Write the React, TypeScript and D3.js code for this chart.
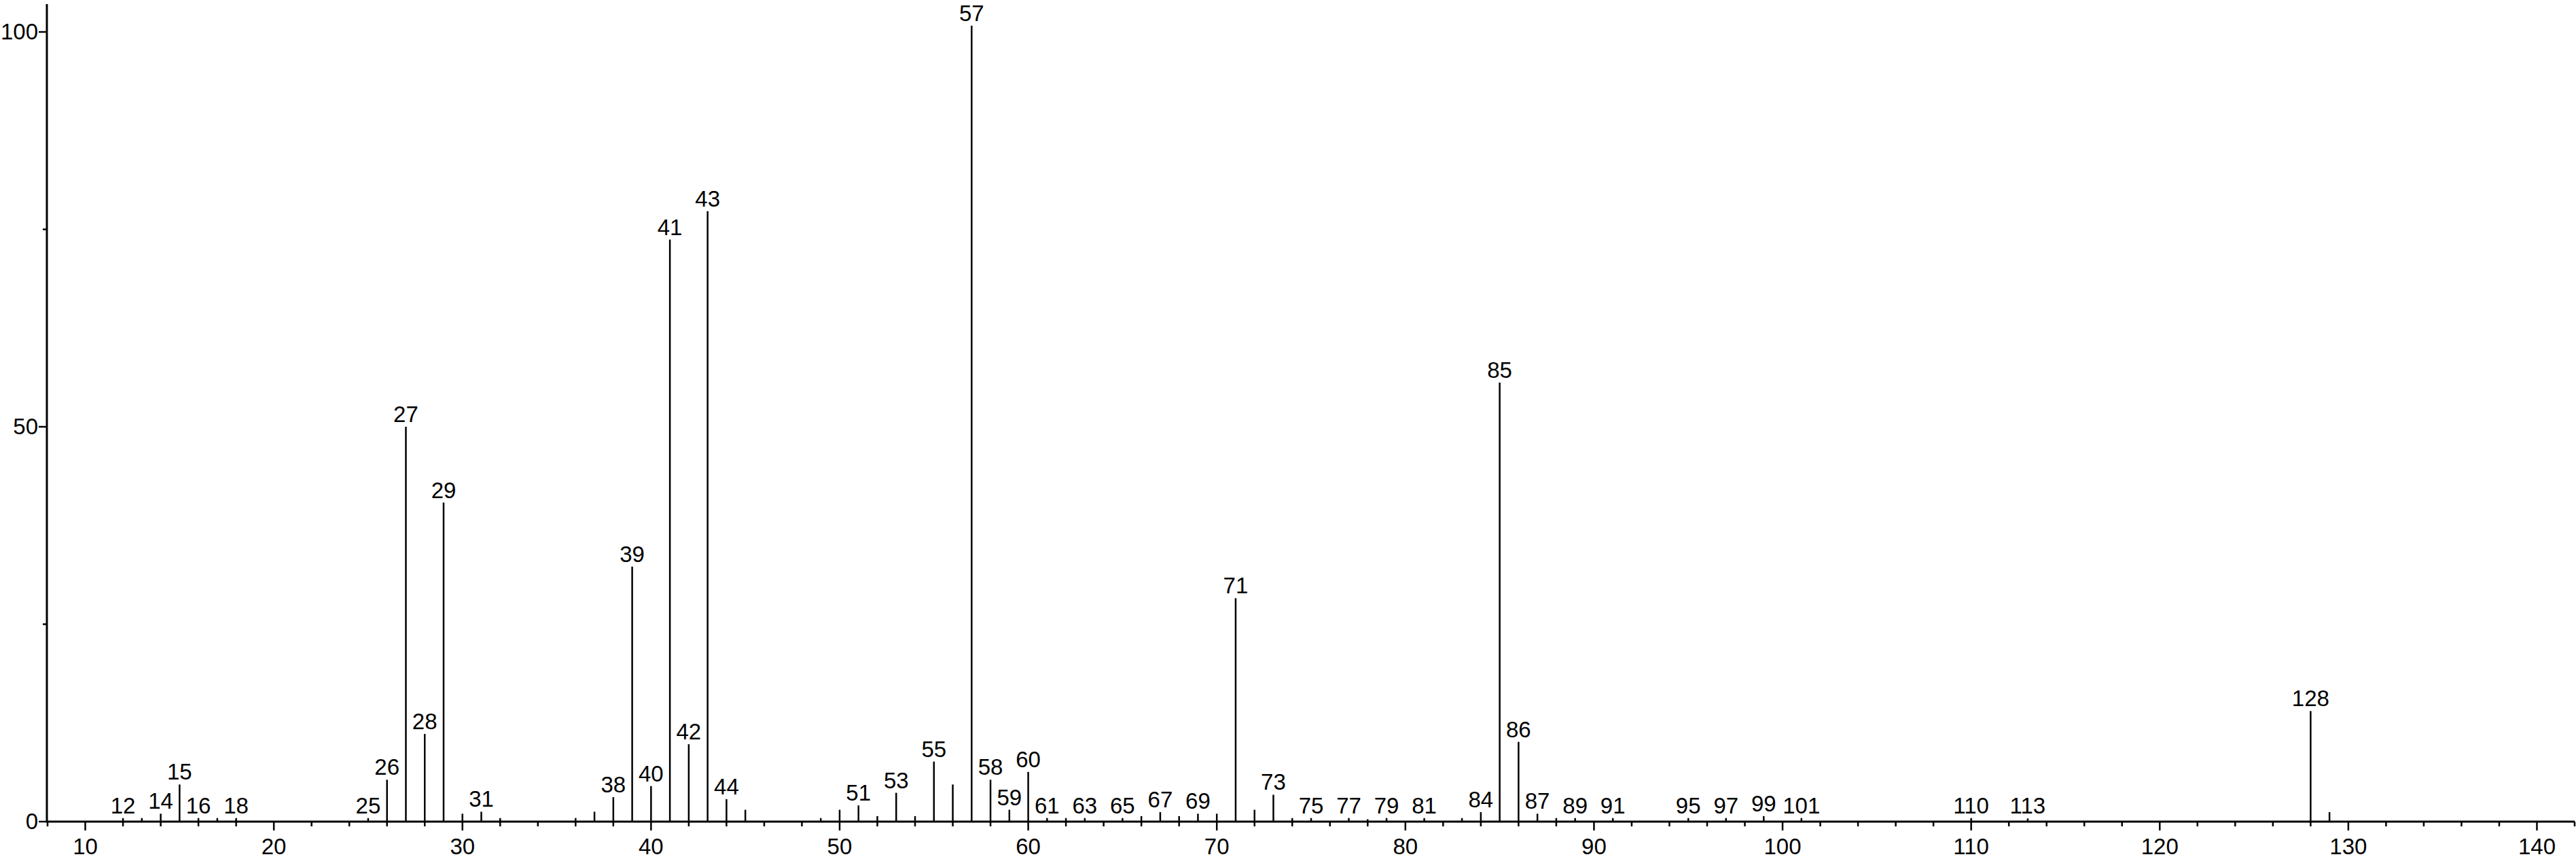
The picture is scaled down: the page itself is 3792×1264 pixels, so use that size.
import React from "react";
import * as d3 from "d3";

const mzValues = [12, 13, 14, 15, 16, 17, 18, 25, 26, 27, 28, 29, 30, 31, 32, 36, 37, 38, 39, 40, 41, 42, 43, 44, 45, 49, 50, 51, 52, 53, 54, 55, 56, 57, 58, 59, 60, 61, 62, 63, 65, 66, 67, 68, 69, 70, 71, 72, 73, 74, 75, 77, 78, 79, 81, 83, 84, 85, 86, 87, 88, 89, 91, 95, 97, 99, 101, 110, 113, 128, 129];
const intensities = [0.45, 0.45, 1.0, 4.7, 0.45, 0.45, 0.45, 0.45, 5.3, 50.0, 11.1, 40.4, 1.0, 1.25, 0.45, 0.45, 1.25, 3.1, 32.3, 4.5, 73.7, 9.8, 77.3, 2.85, 1.5, 0.45, 1.5, 2.05, 0.7, 3.65, 0.7, 7.6, 4.7, 100.8, 5.3, 1.5, 6.3, 0.45, 0.45, 0.45, 0.45, 0.7, 1.2, 0.7, 1.0, 1.0, 28.3, 1.5, 3.4, 0.45, 0.45, 0.45, 0.3, 0.45, 0.45, 0.45, 1.2, 55.6, 10.1, 1.0, 0.45, 0.45, 0.45, 0.45, 0.45, 0.7, 0.45, 0.45, 0.4, 14.0, 1.2];
const labeledMz = [12, 14, 15, 16, 18, 25, 26, 27, 28, 29, 31, 38, 39, 40, 41, 42, 43, 44, 51, 53, 55, 57, 58, 59, 60, 61, 63, 65, 67, 69, 71, 73, 75, 77, 79, 81, 84, 85, 86, 87, 89, 91, 95, 97, 99, 101, 110, 113, 128];
const xMajorTicks = [10, 20, 30, 40, 50, 60, 70, 80, 90, 100, 110, 120, 130, 140];
const yTicks = [0, 25, 50, 75, 100];
const yTickLabels = ["0", "", "50", "", "100"];

const W = 3792;
const H = 1264;
const FONT = "'Liberation Sans', Arial, Helvetica, sans-serif";

export default function App() {
  const x = d3.scaleLinear().domain([8, 142]).range([70, 3790]);
  const y = d3.scaleLinear().domain([0, 100]).range([1209, 47]);
  const minorTicks = d3.range(8, 143, 2).filter((v) => v % 10 !== 0);
  const peaks = mzValues.map((m, i) => ({ m, v: intensities[i] }));
  const labelSet = new Set(labeledMz);
  const base = y(0);
  return (
    <svg
      width={W}
      height={H}
      viewBox={`0 0 ${W} ${H}`}
      style={{ position: "absolute", left: 0, top: 0, background: "#fff" }}
    >
      <rect x={0} y={0} width={W} height={H} fill="#fff" />
      {peaks.map((p) => (
        <line
          key={"p" + p.m}
          x1={x(p.m)}
          x2={x(p.m)}
          y1={base}
          y2={y(p.v)}
          stroke="#000"
          strokeWidth={2.5}
        />
      ))}
      {peaks
        .filter((p) => labelSet.has(p.m))
        .map((p) => (
          <text
            key={"l" + p.m}
            x={x(p.m)}
            y={y(p.v) - 7}
            textAnchor="middle"
            fontFamily={FONT}
            fontSize={33}
            fill="#000"
          >
            {p.m}
          </text>
        ))}
      {/* x axis */}
      <line x1={69} x2={3790} y1={base} y2={base} stroke="#000" strokeWidth={3} />
      {minorTicks.map((t) => (
        <line key={"mt" + t} x1={x(t)} x2={x(t)} y1={base} y2={base + 7} stroke="#000" strokeWidth={2.5} />
      ))}
      {xMajorTicks.map((t) => (
        <g key={"xt" + t}>
          <line x1={x(t)} x2={x(t)} y1={base} y2={base + 13} stroke="#000" strokeWidth={2.5} />
          <text x={x(t)} y={1257} textAnchor="middle" fontFamily={FONT} fontSize={33} fill="#000">
            {t}
          </text>
        </g>
      ))}
      {/* y axis */}
      <line x1={69} x2={69} y1={6} y2={base + 1.5} stroke="#000" strokeWidth={3} />
      {yTicks.map((t, i) => (
        <g key={"yt" + t}>
          <line
            x1={yTickLabels[i] ? 57 : 63}
            x2={69}
            y1={y(t)}
            y2={y(t)}
            stroke="#000"
            strokeWidth={2.5}
          />
          {yTickLabels[i] && (
            <text
              x={56}
              y={y(t) + 11}
              textAnchor="end"
              fontFamily={FONT}
              fontSize={33}
              fill="#000"
            >
              {yTickLabels[i]}
            </text>
          )}
        </g>
      ))}
    </svg>
  );
}
